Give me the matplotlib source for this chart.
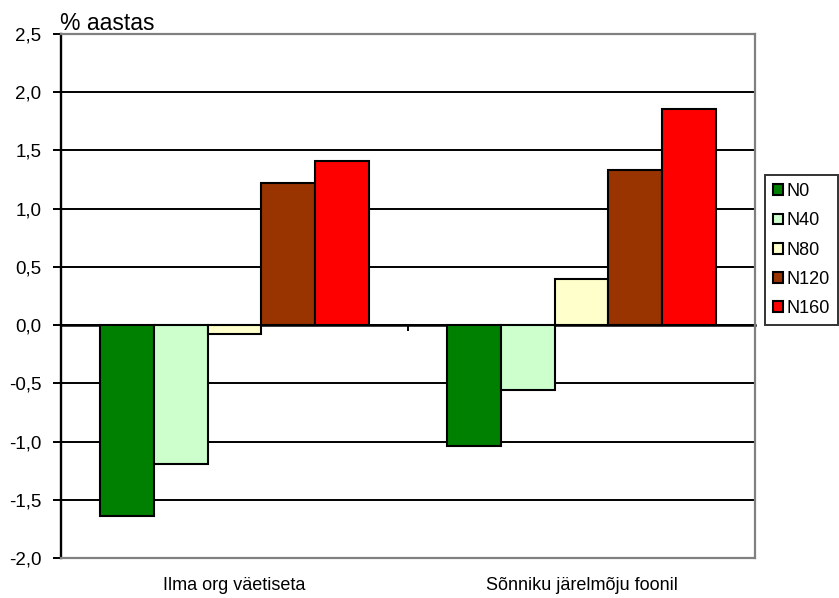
import numpy as np
import matplotlib
matplotlib.use("Agg")
import matplotlib.pyplot as plt
from matplotlib.patches import Patch

plt.rcParams['font.family'] = ['Liberation Sans', 'DejaVu Sans']

# andmed
categories = ["Ilma org väetiseta", "Sõnniku järelmõju foonil"]
series = ["N0", "N40", "N80", "N120", "N160"]
n0 = [-1.64, -1.04]
n40 = [-1.19, -0.56]
n80 = [-0.08, 0.40]
n120 = [1.22, 1.33]
n160 = [1.41, 1.86]
colors = ["#008000", "#CCFFCC", "#FFFFCC", "#993300", "#FF0000"]
yticks = [-2.0, -1.5, -1.0, -0.5, 0.0, 0.5, 1.0, 1.5, 2.0, 2.5]
ytick_labels = ["-2,0", "-1,5", "-1,0", "-0,5", "0,0", "0,5", "1,0", "1,5", "2,0", "2,5"]

values = [n0, n40, n80, n120, n160]

fig = plt.figure(figsize=(8.39, 5.98), dpi=100)
ax = fig.add_axes([61 / 839, 1 - 558 / 598, 694 / 839, 524 / 598])

ymin, ymax = -2.0, 2.5
ax.set_ylim(ymin, ymax)
ax.set_xlim(-0.5, 1.5)

# rõhtjooned
for y in yticks[1:-1]:
    ax.axhline(y, color="black", lw=1.4, zorder=1)

x = np.arange(len(categories))
w = 0.1545
for i, (name, vals) in enumerate(zip(series, values)):
    ax.bar(x + (i - 2) * w, vals, width=w, color=colors[i], edgecolor="black",
           linewidth=1.5, zorder=3, label=name)

ax.set_yticks(yticks)
ax.set_yticklabels(ytick_labels, fontsize=13.5)
ax.tick_params(axis="y", direction="out", length=6, width=1.4, pad=8, color="black")

ax.set_xticks(x)
ax.set_xticklabels(categories, fontsize=13)
ax.tick_params(axis="x", length=0, pad=14)

for s in ["top", "right", "bottom"]:
    ax.spines[s].set_color("#808080")
    ax.spines[s].set_linewidth(1.6)
ax.spines["left"].set_color("black")
ax.spines["left"].set_linewidth(1.7)

# nulljoon koos kategooriate vaheliste kriipsudega
zero_pos = (0 - ymin) / (ymax - ymin)
sec = ax.secondary_xaxis(zero_pos)
sec.set_xticks([-0.5, 0.5, 1.5])
sec.set_xticklabels([])
sec.tick_params(direction="out", length=4, width=1.4, color="black")
sec.spines["bottom"].set_color("black")
sec.spines["bottom"].set_linewidth(1.8)
sec.spines["bottom"].set_zorder(4)

fig.text(60 / 839, 1 - 30 / 598, "% aastas", fontsize=16.5, ha="left", va="baseline")

handles = [Patch(facecolor=c, edgecolor="black", linewidth=1.5) for c in colors]
leg = fig.legend(handles, series, loc="upper left",
                 bbox_to_anchor=(765 / 839, 1 - 175 / 598),
                 fontsize=13, frameon=True, fancybox=False,
                 handlelength=0.55, handleheight=0.55, handletextpad=0.2,
                 labelspacing=0.68, borderpad=0.45, borderaxespad=0)
leg.get_frame().set_edgecolor("black")
leg.get_frame().set_linewidth(1.4)

plt.savefig("out.png", dpi=100)
